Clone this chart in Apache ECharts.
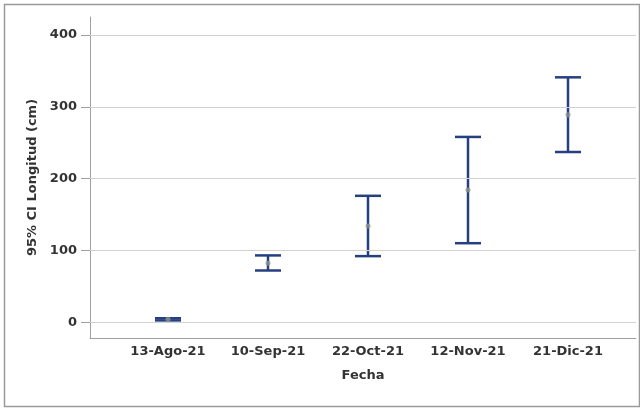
<!DOCTYPE html>
<html>
<head>
<meta charset="utf-8">
<script src="https://cdn.jsdelivr.net/npm/echarts@6/dist/echarts.min.js"></script>
<style>html,body{margin:0;padding:0;background:#fff}#c{width:640px;height:409px}</style>
</head>
<body>
<div id="c"></div>
<script>
var categories = ['13-Ago-21', '10-Sep-21', '22-Oct-21', '12-Nov-21', '21-Dic-21'];
var lowerCI = [2.5, 72, 92, 110, 237];
var upperCI = [5.5, 93, 176, 258, 341];
var means = [4, 82, 134, 184, 289];
var yTicks = [0, 100, 200, 300, 400];
var xPositions = [0, 1, 2, 3, 4];

var FONT = 'DejaVu Sans';
var TXT = '#333333';
var chart = echarts.init(document.getElementById('c'), null, {renderer: 'canvas'});

var barData = categories.map(function (c, i) { return [i, lowerCI[i], upperCI[i]]; });
var meanData = categories.map(function (c, i) { return [i, means[i]]; });

chart.setOption({
  animation: false,
  backgroundColor: '#ffffff',
  graphic: [{
    type: 'rect', silent: true, z: -1,
    shape: {x: 4.5, y: 4.5, width: 635, height: 402},
    style: {fill: 'none', stroke: '#9a9a9a', lineWidth: 1.5}
  }],
  grid: {left: 90, top: 17, width: 546, height: 321, containLabel: false},
  xAxis: {
    type: 'value', min: -0.78, max: 4.68,
    name: 'Fecha', nameLocation: 'middle', nameGap: 31,
    nameTextStyle: {fontFamily: FONT, fontWeight: 'bold', fontSize: 13, color: TXT},
    axisLine: {show: true, onZero: false, lineStyle: {color: '#a0a0a0', width: 1}},
    axisTick: {show: false},
    splitLine: {show: false},
    axisLabel: {
      customValues: xPositions, margin: 7,
      fontFamily: FONT, fontWeight: 'bold', fontSize: 13, color: TXT,
      formatter: function (v) { return categories[Math.round(v)] || ''; }
    }
  },
  yAxis: {
    type: 'value', min: -22, max: 425,
    name: '95% CI Longitud (cm)', nameLocation: 'middle', nameGap: 49, nameRotate: 90,
    nameTextStyle: {fontFamily: FONT, fontWeight: 'bold', fontSize: 13, color: TXT},
    axisLine: {show: true, onZero: false, lineStyle: {color: '#a0a0a0', width: 1}},
    axisTick: {show: true, customValues: yTicks, length: 9, lineStyle: {color: '#a0a0a0'}},
    splitLine: {show: false},
    axisLabel: {
      customValues: yTicks, margin: 13,
      fontFamily: FONT, fontWeight: 'bold', fontSize: 13, color: TXT
    }
  },
  series: [{
    type: 'line', data: [], silent: true,
    markLine: {
      silent: true, symbol: 'none', animation: false,
      label: {show: false},
      lineStyle: {color: '#d2d2d2', width: 1, type: 'solid'},
      data: yTicks.map(function (t) { return {yAxis: t}; })
    }
  }, {
    type: 'custom', data: barData, z: 3,
    renderItem: function (params, api) {
      var x = api.value(0);
      var lo = api.coord([x, api.value(1)]);
      var hi = api.coord([x, api.value(2)]);
      var hw = 13;
      var st = {stroke: '#263f80', lineWidth: 2.5, fill: 'none'};
      return {type: 'group', children: [
        {type: 'line', shape: {x1: lo[0], y1: lo[1], x2: hi[0], y2: hi[1]}, style: st},
        {type: 'line', shape: {x1: lo[0] - hw, y1: lo[1], x2: lo[0] + hw, y2: lo[1]}, style: st},
        {type: 'line', shape: {x1: hi[0] - hw, y1: hi[1], x2: hi[0] + hw, y2: hi[1]}, style: st}
      ]};
    }
  }, {
    type: 'scatter', data: meanData, symbol: 'circle', symbolSize: 5, z: 4,
    itemStyle: {color: '#8c968e'}
  }]
});
</script>
</body>
</html>
